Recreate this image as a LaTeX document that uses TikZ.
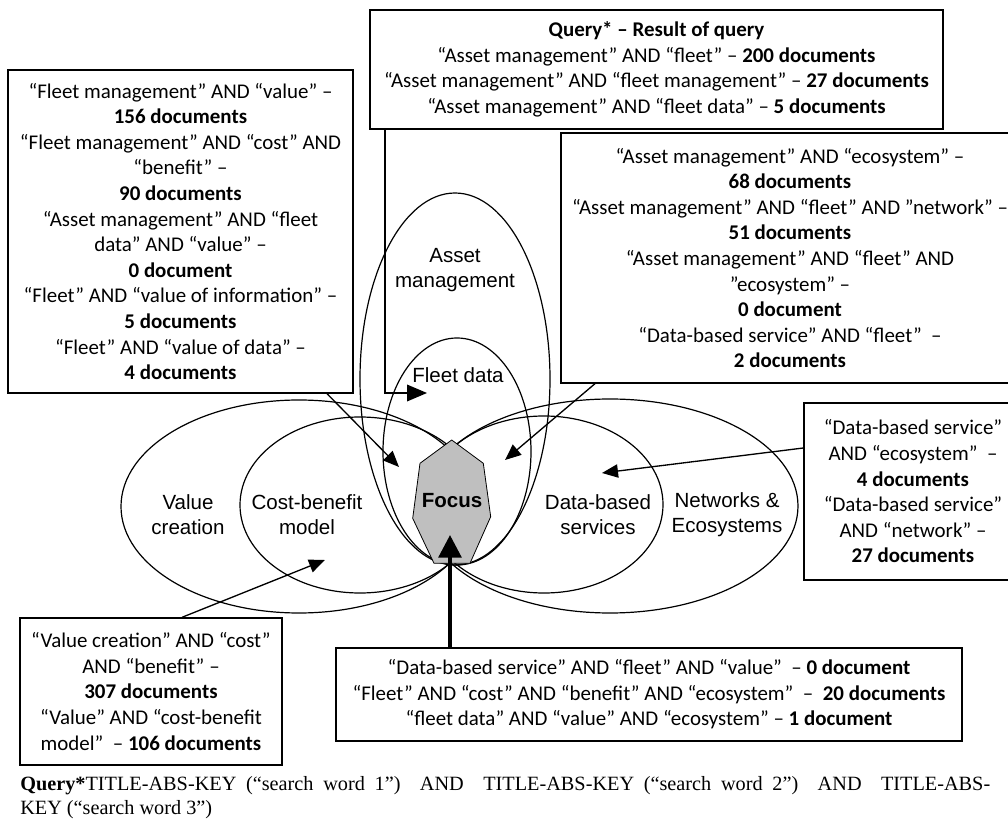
\documentclass[tikz,border=0pt]{standalone}
\usepackage{fontspec}
\setmainfont{Carlito}
\newfontfamily\arialfont{Liberation Sans}
\newfontfamily\timesfont{Liberation Serif}
\usetikzlibrary{arrows.meta}
\definecolor{focusgray}{HTML}{BFBFBF}

\begin{document}
\begin{tikzpicture}[x=0.75pt,y=-0.75pt,
  qbox/.style={draw, line width=1pt, fill=white, align=center, inner sep=0pt,
               font=\fontsize{15.7}{19.2}\selectfont},
  region/.style={line width=0.9pt},
  lbl/.style={align=center, inner sep=0pt, font=\arialfont\fontsize{15.4}{18.8}\selectfont},
  ptr/.style={line width=1pt, -{Triangle[length=12pt,width=10pt]}},
  bigptr/.style={line width=3pt, -{Triangle[length=17pt,width=17pt]}},
]
\useasboundingbox (0,0) rectangle (1008,827);

% overlapping research areas
\draw[region] (299,506.5) ellipse [x radius=178, y radius=106.5];
\draw[region] (360,505) ellipse [x radius=120, y radius=88];
\draw[region] (544,504.5) ellipse [x radius=119, y radius=88.5];
\draw[region] (610,506) ellipse [x radius=188, y radius=107];
\draw[region] (455,379) ellipse [x radius=95, y radius=186];
\draw[region] (457,451.5) ellipse [x radius=74, y radius=113.5];

% focus area
\draw[line width=0.6pt, fill=focusgray] (451.7,440) -- (483.3,463.3) -- (490.7,516.7)
  -- (470,563.3) -- (434,563.3) -- (412.7,518.3) -- (420,463.3) -- cycle;
\node[font=\arialfont\bfseries\fontsize{15.4}{18}\selectfont, inner sep=0pt] (focus) at (452,501) {Focus};

% area labels
\node[lbl] (vc) at (188,514.5) {Value\\creation};
\node[lbl] (cb) at (307,514.5) {Cost-benefit\\model};
\node[lbl] (ds) at (598,514.5) {Data-based\\services};
\node[lbl] (ne) at (727,514.5) {Networks \&\\Ecosystems};
\node[lbl] (am) at (455,270.5) {Asset\\management};
\node[lbl] (fd) at (458,375) {Fleet data};

% query result boxes
\node[qbox, minimum width=429.75pt, minimum height=89.25pt] (tb) at (656.5,69.5)
  {\textbf{Query* – Result of query}\\
   “Asset management” AND “fleet” – \textbf{200 documents}\\
   “Asset management” AND “fleet management” – \textbf{27 documents}\\
   “Asset management” AND “fleet data” – \textbf{5 documents}};

\node[qbox, minimum width=258.75pt, minimum height=242.25pt] (lb) at (180.5,231.5)
  {“Fleet management” AND “value” –\\
   \textbf{156 documents}\\
   “Fleet management” AND “cost” AND\\
   “benefit” –\\
   \textbf{90 documents}\\
   “Asset management” AND “fleet\\
   data” AND “value” –\\
   \textbf{0 document}\\
   “Fleet” AND “value of information” –\\
   \textbf{5 documents}\\
   “Fleet” AND “value of data” –\\
   \textbf{4 documents}};

\node[qbox, minimum width=343.5pt, minimum height=187.5pt] (rtb) at (790,258)
  {“Asset management” AND “ecosystem” –\\
   \textbf{68 documents}\\
   “Asset management” AND “fleet” AND ”network” –\\
   \textbf{51 documents}\\
   “Asset management” AND “fleet” AND\\
   ”ecosystem” –\\
   \textbf{0 document}\\
   “Data-based service” AND “fleet”\ \ –\\
   \textbf{2 documents}};

\node[qbox, minimum width=163.5pt, minimum height=132.75pt] (rb) at (913,491.5)
  {“Data-based service”\\
   AND “ecosystem”\ \ –\\
   \textbf{4 documents}\\
   “Data-based service”\\
   AND “network” –\\
   \textbf{27 documents}};

\node[qbox, minimum width=196.5pt, minimum height=110.25pt] (blb) at (151,691.5)
  {“Value creation” AND “cost”\\
   AND “benefit” –\\
   \textbf{307 documents}\\
   “Value” AND “cost-benefit\\
   model”\ \ – \textbf{106 documents}};

\node[qbox, minimum width=469.5pt, minimum height=69.75pt] (bb) at (649,694.5)
  {“Data-based service” AND “fleet” AND “value”\ \ – \textbf{0 document}\\
   “Fleet” AND “cost” AND “benefit” AND “ecosystem”\ \ –\ \ \textbf{20 documents}\\
   “fleet data” AND “value” AND “ecosystem” – \textbf{1 document}};

% connector ends
\coordinate (sF) at (385,129);
\coordinate (tF) at (427,393);
\coordinate (sL) at (327,393);
\coordinate (tL) at (399,467);
\coordinate (sR) at (595,383);
\coordinate (tR) at (505,460);
\coordinate (sD) at (805,448);
\coordinate (tD) at (602,473);
\coordinate (sV) at (182,618);
\coordinate (tV) at (325,560);
\coordinate (sB) at (450,648);
\coordinate (tB) at (450,535);

% connectors
\draw[line width=1pt, -{Triangle[length=15pt,width=12.5pt]}] (tb.south -| sF) |- (tF);
\draw[ptr] (lb.south -| sL) -- (tL);
\draw[ptr] (rtb.south -| sR) -- (tR);
\draw[ptr] (rb.west |- sD) -- (tD);
\draw[ptr] (blb.north -| sV) -- (tV);
\draw[bigptr] (bb.north -| sB) -- (tB);

% search string note
\node[anchor=north west, align=left, inner sep=0pt,
      font=\timesfont\fontsize{15.2}{18}\selectfont] (note) at (20,776)
  {\makebox[727.5pt][s]{\textbf{Query*}TITLE-ABS-KEY (“search word 1”)\ \ AND\ \ TITLE-ABS-KEY (“search word 2”)\ \ AND\ \ TITLE-ABS-}\\
   KEY (“search word 3”)};
\end{tikzpicture}
\end{document}
